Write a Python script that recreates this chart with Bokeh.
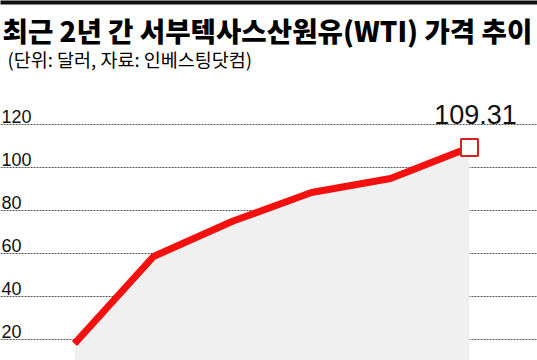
from bokeh.plotting import figure
from bokeh.models import Label, Grid, FixedTicker, Range1d, ColumnDataSource
from bokeh.embed import file_html
from bokeh.resources import INLINE

# ---- data ----
title_text = "최근 2년 간 서부텍사스산원유(WTI) 가격 추이"
subtitle_text = "(단위: 달러, 자료: 인베스팅닷컴)"
points = [0, 1, 2, 3, 4, 5]
wti_price = [18.1, 58.6, 75.0, 88.4, 94.9, 109.31]
y_ticks = [20, 40, 60, 80, 100, 120]
y_tick_labels = ["20", "40", "60", "80", "100", "120"]

W, H = 537, 360
PX_PER_UNIT = 2.15
p = figure(width=W, height=H, output_backend="svg", toolbar_location=None,
           x_axis_type=None, y_axis_type=None, title=None,
           min_border=0, min_border_left=0, min_border_right=0,
           min_border_top=0, min_border_bottom=0)
p.outline_line_color = None
p.background_fill_color = "white"
p.border_fill_color = "white"
p.x_range = Range1d(-74 / 79, (W - 74) / 79)
p.y_range = Range1d(22 / PX_PER_UNIT, 382 / PX_PER_UNIT)

src = ColumnDataSource(dict(x=points, y=wti_price, base=[0] * len(points)))

# top black rule along the top edge of the canvas
p.quad(left=[p.x_range.start - 1], right=[p.x_range.end + 1],
       top=[p.y_range.end + 5], bottom=[p.y_range.end - 4 / PX_PER_UNIT],
       fill_color="#111111", line_color=None)

# gray area under the line
p.varea(x="x", y1="base", y2="y", source=src, fill_color="#f0f0f0")

# dotted grid
p.add_layout(Grid(dimension=1, ticker=FixedTicker(ticks=y_ticks),
                  grid_line_color="#555555", grid_line_dash="2 1",
                  grid_line_width=1))

# line
p.line(x="x", y="y", source=src, line_color="#f51010", line_width=7,
       line_join="round")

# end marker
p.scatter(x=[points[-1]], y=[wti_price[-1]], marker="square", size=17,
          fill_color="white", line_color="#d82020", line_width=2)

# value label
p.add_layout(Label(x=points[-1], y=wti_price[-1], text=f"{wti_price[-1]:.2f}",
                   x_offset=6, y_offset=33, text_align="center",
                   text_baseline="alphabetic",
                   text_font="Liberation Sans Narrow, Liberation Sans",
                   text_font_size="27px", text_color="#111111"))

# y tick labels
for v, t in zip(y_ticks, y_tick_labels):
    p.add_layout(Label(x=1, y=v, x_units="screen", y_units="data", text=t,
                       y_offset=8, text_align="left", text_baseline="alphabetic",
                       text_font="Liberation Sans Narrow, Liberation Sans",
                       text_font_size="18px", text_color="#111111"))

# titles
p.add_layout(Label(x=2, y=H - 29, x_units="screen", y_units="screen",
                   text=title_text, text_align="left", text_baseline="alphabetic",
                   text_font="Noto Sans CJK KR Black, Noto Sans CJK KR",
                   text_font_style="bold",
                   text_font_size="27.6px", text_color="black"))
p.add_layout(Label(x=7, y=H - 58, x_units="screen", y_units="screen",
                   text=subtitle_text, text_align="left", text_baseline="alphabetic",
                   text_font="Noto Sans CJK KR", text_font_size="18.5px",
                   text_color="black"))

open("out.html", "w").write(file_html(p, INLINE))
